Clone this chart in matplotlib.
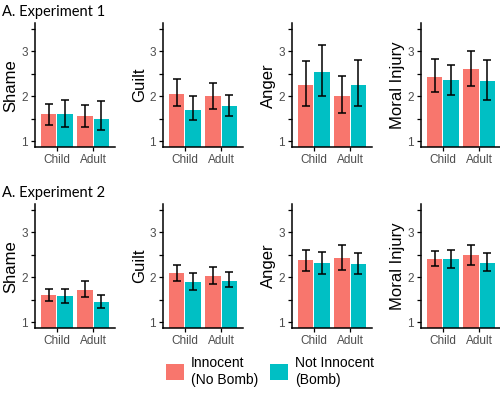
import matplotlib.pyplot as plt
from matplotlib.patches import Patch
import numpy as np

plt.rcParams['font.family'] = ['Liberation Sans', 'DejaVu Sans']

groups = ['Child', 'Adult']
measures = ['Shame', 'Guilt', 'Anger', 'Moral Injury']
conditions = ['Innocent\n(No Bomb)', 'Not Innocent\n(Bomb)']
colors = ['#F8766D', '#00BFC4']

# experiment 1: [measure][group] for each condition
exp1_inn = [[1.60, 1.56], [2.05, 2.02], [2.26, 2.02], [2.43, 2.61]]
exp1_inn_lo = [[1.36, 1.33], [1.78, 1.72], [1.78, 1.64], [2.11, 2.23]]
exp1_inn_hi = [[1.84, 1.81], [2.39, 2.30], [2.78, 2.45], [2.83, 3.01]]
exp1_not = [[1.62, 1.51], [1.70, 1.79], [2.54, 2.25], [2.36, 2.34]]
exp1_not_lo = [[1.33, 1.25], [1.47, 1.57], [2.01, 1.78], [2.04, 1.93]]
exp1_not_hi = [[1.93, 1.89], [2.01, 2.04], [3.14, 2.82], [2.71, 2.80]]

# experiment 2
exp2_inn = [[1.62, 1.72], [2.09, 2.04], [2.38, 2.43], [2.41, 2.49]]
exp2_inn_lo = [[1.48, 1.57], [1.92, 1.86], [2.14, 2.17], [2.26, 2.28]]
exp2_inn_hi = [[1.75, 1.91], [2.27, 2.23], [2.62, 2.72], [2.59, 2.72]]
exp2_not = [[1.59, 1.46], [1.90, 1.93], [2.31, 2.30], [2.41, 2.33]]
exp2_not_lo = [[1.43, 1.33], [1.72, 1.78], [2.08, 2.07], [2.20, 2.14]]
exp2_not_hi = [[1.75, 1.61], [2.09, 2.12], [2.57, 2.54], [2.62, 2.54]]

experiments = [
    ('A. Experiment 1', [(exp1_inn, exp1_inn_lo, exp1_inn_hi), (exp1_not, exp1_not_lo, exp1_not_hi)]),
    ('A. Experiment 2', [(exp2_inn, exp2_inn_lo, exp2_inn_hi), (exp2_not, exp2_not_lo, exp2_not_hi)]),
]

fig = plt.figure(figsize=(5, 4.03), dpi=100)
lefts = [0.07, 0.326, 0.584, 0.842]
bottoms = [0.635, 0.186]
titles_y = [0.97, 0.52]
x = np.arange(1, len(groups) + 1)

for r, (title, series) in enumerate(experiments):
    fig.text(0.004, titles_y[r], title, fontsize=10.5, family='Lato', va='center', ha='left')
    for m, name in enumerate(measures):
        ax = fig.add_axes([lefts[m], bottoms[r], 0.16, 0.307])
        for c, (vals, lo, hi) in enumerate(series):
            v = np.array(vals[m])
            l = np.array(lo[m])
            h = np.array(hi[m])
            pos = x + (c - 0.5) * 0.45
            ax.bar(pos, v, width=0.43, color=colors[c], zorder=1)
            ax.errorbar(pos, v, yerr=[v - l, h - v], fmt='none', ecolor='black',
                        elinewidth=1.1, capsize=3, capthick=1.1, zorder=2)
        ax.set_xlim(0.4, 2.6)
        ax.set_ylim(0.875, 3.625)
        ax.set_yticks([1, 1.5, 2, 2.5, 3, 3.5])
        ax.set_yticklabels(['1', '', '2', '', '3', ''])
        ax.set_xticks(x)
        ax.set_xticklabels(groups)
        ax.set_ylabel(name, fontsize=12, labelpad=2)
        for s in ['top', 'right']:
            ax.spines[s].set_visible(False)
        for s in ['left', 'bottom']:
            ax.spines[s].set_linewidth(1.1)
        ax.tick_params(axis='both', length=3, width=0.9, colors='black',
                       labelcolor='#4D4D4D', labelsize=8.5, pad=2)

handles = [Patch(facecolor=colors[i], label=conditions[i]) for i in range(2)]
fig.legend(handles=handles, loc='center', bbox_to_anchor=(0.54, 0.078), ncol=2,
           frameon=False, handlelength=1.3, handleheight=1.4,
           columnspacing=0.9, handletextpad=0.45, prop={'size': 10})

fig.savefig('out.png', dpi=100)
